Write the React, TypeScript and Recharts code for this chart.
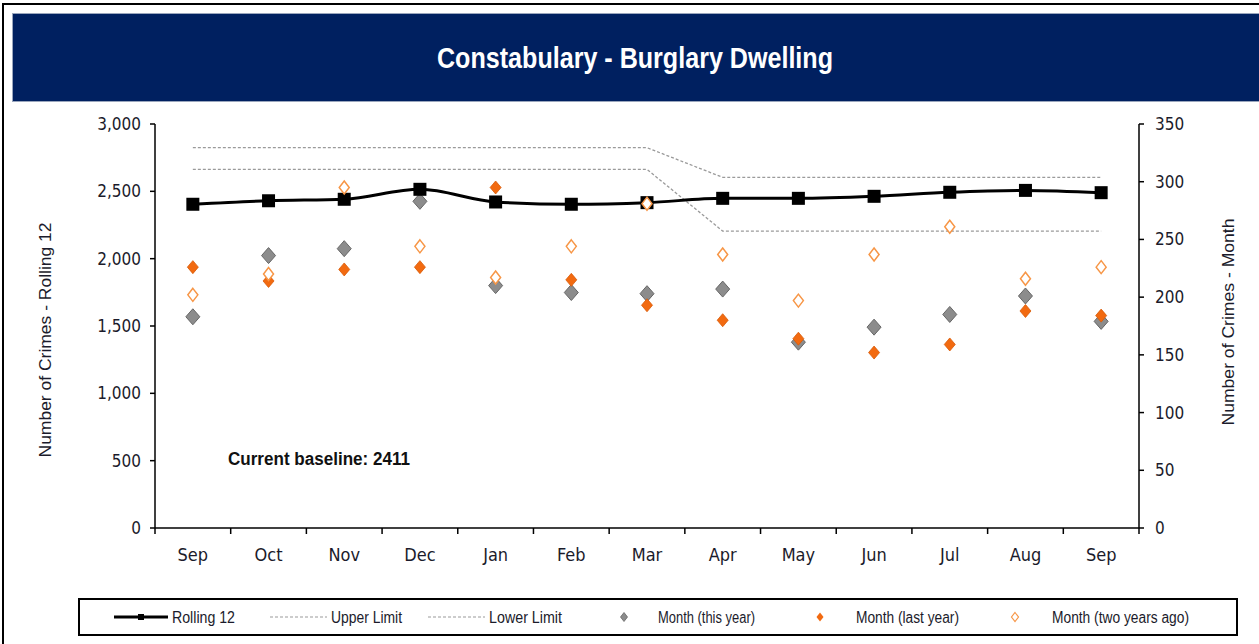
import React from 'react';
import { ComposedChart, Line, XAxis, YAxis } from 'recharts';

const months = ['Sep', 'Oct', 'Nov', 'Dec', 'Jan', 'Feb', 'Mar', 'Apr', 'May', 'Jun', 'Jul', 'Aug', 'Sep'];
const rolling12 = [2404, 2430, 2441, 2515, 2421, 2404, 2416, 2448, 2448, 2463, 2493, 2507, 2490];
const upperLimit = [2824, 2824, 2824, 2824, 2824, 2824, 2824, 2604, 2604, 2604, 2604, 2604, 2604];
const lowerLimit = [2663, 2663, 2663, 2663, 2663, 2663, 2663, 2205, 2205, 2205, 2205, 2205, 2205];
const monthThisYear = [183, 236, 242, 283, 210, 204, 203, 207, 161, 174, 185, 201, 179];
const monthLastYear = [226, 214, 224, 226, 295, 215, 193, 180, 164, 152, 159, 188, 184];
const monthTwoYearsAgo = [202, 220, 295, 244, 217, 244, 281, 237, 197, 237, 261, 216, 226];
const leftTicks = [0, 500, 1000, 1500, 2000, 2500, 3000];
const rightTicks = [0, 50, 100, 150, 200, 250, 300, 350];

const data = months.map((m, i) => ({
  idx: i,
  rolling: rolling12[i],
  upper: upperLimit[i],
  lower: lowerLimit[i],
  thisYear: monthThisYear[i],
  lastYear: monthLastYear[i],
  twoYears: monthTwoYearsAgo[i],
}));

const FONT = "'Liberation Sans Narrow', 'Arial Narrow', 'DejaVu Sans Condensed', 'Liberation Sans', Arial, sans-serif";
const SANS = "'Liberation Sans', Arial, sans-serif";
const TEXT = '#1b1b2b';
const NAVY = '#002060';
const GRAY_FILL = '#8c8c8c';
const GRAY_STROKE = '#666666';
const ORANGE = '#f26a10';
const LIGHT_ORANGE = '#f79646';

const diamond = (cx: number, cy: number, w: number, h: number) =>
  `M${cx},${cy - h} L${cx + w},${cy} L${cx},${cy + h} L${cx - w},${cy} Z`;

const SquareDot = (props: any) => {
  const { cx, cy, index } = props;
  if (cx == null || cy == null) return <g key={`sq-${index}`} />;
  return <rect key={`sq-${index}`} x={cx - 6.5} y={cy - 6.5} width={13} height={13} fill="#000" />;
};
const GrayDot = (props: any) => {
  const { cx, cy, index } = props;
  if (cx == null || cy == null) return <g key={`gd-${index}`} />;
  return <path key={`gd-${index}`} d={diamond(cx, cy, 7, 8)} fill={GRAY_FILL} stroke={GRAY_STROKE} strokeWidth={1} />;
};
const OrangeDot = (props: any) => {
  const { cx, cy, index } = props;
  if (cx == null || cy == null) return <g key={`od-${index}`} />;
  return <path key={`od-${index}`} d={diamond(cx, cy, 5.5, 6.5)} fill={ORANGE} stroke="#d85a08" strokeWidth={0.8} />;
};
const HollowDot = (props: any) => {
  const { cx, cy, index } = props;
  if (cx == null || cy == null) return <g key={`hd-${index}`} />;
  return <path key={`hd-${index}`} d={diamond(cx, cy, 5, 6.5)} fill="#fff" stroke={LIGHT_ORANGE} strokeWidth={1.5} />;
};

const XTick = (props: any) => {
  const { x, y, payload, index, visibleTicksCount } = props;
  const off = payload?.offset ?? 0;
  const last = index === (visibleTicksCount ?? months.length) - 1;
  return (
    <g>
      <line x1={x - off} x2={x - off} y1={y} y2={y + 6} stroke="#000" strokeWidth={1.5} />
      {last && <line x1={x + off} x2={x + off} y1={y} y2={y + 6} stroke="#000" strokeWidth={1.5} />}
      <text x={x} y={y + 33} textAnchor="middle" fontFamily={FONT} fontSize={18} fill={TEXT}>
        {months[payload.value]}
      </text>
    </g>
  );
};

const fmt = (v: number) => v.toLocaleString('en-US');

const legendItems = [
  { label: 'Rolling 12', kind: 'rolling', x: 114, w: 63 },
  { label: 'Upper Limit', kind: 'dash', x: 270, w: 71 },
  { label: 'Lower Limit', kind: 'dash', x: 428, w: 73 },
  { label: 'Month (this year)', kind: 'gray', x: 600, w: 97 },
  { label: 'Month (last year)', kind: 'orange', x: 797, w: 103 },
  { label: 'Month (two years ago)', kind: 'hollow', x: 993, w: 137 },
];

const LegendBox = () => (
  <div
    style={{
      position: 'absolute',
      left: 78,
      top: 598,
      width: 1156,
      height: 34,
      border: '2px solid #000',
      boxSizing: 'content-box',
    }}
  >
    <svg width={1156} height={34} style={{ position: 'absolute', left: 0, top: 0 }}>
      {legendItems.map((it) => {
        const lx = it.x - 80;
        let sym: React.ReactNode = null;
        let tx = lx + 58;
        if (it.kind === 'rolling') {
          sym = (
            <g>
              <line x1={lx} x2={lx + 54} y1={17} y2={17} stroke="#000" strokeWidth={3} />
              <rect x={lx + 24} y={14} width={6} height={6} fill="#000" />
            </g>
          );
        } else if (it.kind === 'dash') {
          sym = <line x1={lx} x2={lx + 57} y1={17} y2={17} stroke="#999" strokeWidth={1.2} strokeDasharray="3 2" />;
          tx = lx + 61;
        } else if (it.kind === 'gray') {
          sym = <path d={diamond(lx + 24, 17, 3.5, 4.5)} fill={GRAY_FILL} stroke={GRAY_STROKE} strokeWidth={0.8} />;
          tx = lx + 58;
        } else if (it.kind === 'orange') {
          sym = <path d={diamond(lx + 23, 17, 3.5, 4.5)} fill={ORANGE} />;
          tx = lx + 59;
        } else {
          sym = <path d={diamond(lx + 22, 17, 3.5, 4.5)} fill="#fff" stroke={LIGHT_ORANGE} strokeWidth={1.2} />;
          tx = lx + 59;
        }
        return (
          <g key={it.label}>
            {sym}
            <text
              x={tx}
              y={23}
              fontFamily={SANS}
              fontSize={16}
              fill={TEXT}
              textLength={it.w}
              lengthAdjust="spacingAndGlyphs"
            >
              {it.label}
            </text>
          </g>
        );
      })}
    </svg>
  </div>
);

export default function App() {
  return (
    <div
      style={{
        position: 'absolute',
        left: 0,
        top: 0,
        width: 1259,
        height: 644,
        overflow: 'hidden',
        background: '#fff',
        fontFamily: FONT,
      }}
    >
      <div
        style={{
          position: 'absolute',
          left: 2,
          top: 3,
          width: 1300,
          height: 700,
          border: '2px solid #000',
        }}
      />
      <div
        style={{
          position: 'absolute',
          left: 12,
          top: 13,
          width: 1260,
          height: 87,
          background: NAVY,
          borderTop: '1px solid #9aa6bd',
          borderLeft: '1px solid #9aa6bd',
          borderBottom: '1px solid #9aa6bd',
        }}
      />
      <div style={{ position: 'absolute', left: 0, top: 0 }}>
        <ComposedChart width={1259} height={644} data={data} margin={{ top: 124, right: 20, bottom: 56, left: 35 }}>
          <XAxis
            dataKey="idx"
            type="category"
            scale="band"
            xAxisId="x"
            axisLine={{ stroke: '#000', strokeWidth: 1.5 }}
            tickLine={false}
            tickSize={0}
            tickMargin={0}
            tick={<XTick />}
            interval={0}
            height={60}
          />
          <YAxis
            yAxisId="left"
            orientation="left"
            domain={[0, 3000]}
            ticks={leftTicks}
            tickFormatter={fmt}
            axisLine={{ stroke: '#000', strokeWidth: 1.5 }}
            tickLine={{ stroke: '#000', strokeWidth: 1.5 }}
            tickSize={5}
            tickMargin={9}
            tick={{ fontFamily: FONT, fontSize: 17, fill: TEXT }}
            width={120}
            allowDataOverflow
          />
          <YAxis
            yAxisId="right"
            orientation="right"
            domain={[0, 350]}
            ticks={rightTicks}
            axisLine={{ stroke: '#000', strokeWidth: 1.5 }}
            tickLine={{ stroke: '#000', strokeWidth: 1.5 }}
            tickSize={5}
            tickMargin={11}
            tick={{ fontFamily: FONT, fontSize: 17, fill: TEXT, textAnchor: 'start' }}
            width={100}
            allowDataOverflow
          />
          <Line
            xAxisId="x"
            yAxisId="left"
            dataKey="upper"
            stroke="#9a9a9a"
            strokeWidth={1.3}
            strokeDasharray="3 2"
            dot={false}
            activeDot={false}
            isAnimationActive={false}
          />
          <Line
            xAxisId="x"
            yAxisId="left"
            dataKey="lower"
            stroke="#9a9a9a"
            strokeWidth={1.3}
            strokeDasharray="3 2"
            dot={false}
            activeDot={false}
            isAnimationActive={false}
          />
          <Line
            xAxisId="x"
            yAxisId="right"
            dataKey="thisYear"
            stroke="none"
            dot={<GrayDot />}
            activeDot={false}
            isAnimationActive={false}
          />
          <Line
            xAxisId="x"
            yAxisId="right"
            dataKey="lastYear"
            stroke="none"
            dot={<OrangeDot />}
            activeDot={false}
            isAnimationActive={false}
          />
          <Line
            xAxisId="x"
            yAxisId="left"
            dataKey="rolling"
            type="monotone"
            stroke="#000"
            strokeWidth={3}
            dot={<SquareDot />}
            activeDot={false}
            isAnimationActive={false}
          />
          <Line
            xAxisId="x"
            yAxisId="right"
            dataKey="twoYears"
            stroke="none"
            dot={<HollowDot />}
            activeDot={false}
            isAnimationActive={false}
          />
        </ComposedChart>
      </div>
      <svg width={1259} height={644} style={{ position: 'absolute', left: 0, top: 0, pointerEvents: 'none' }}>
        <text
          x={635}
          y={68}
          textAnchor="middle"
          fontFamily={SANS}
          fontWeight="bold"
          fontSize={29}
          fill="#fff"
          textLength={396}
          lengthAdjust="spacingAndGlyphs"
        >
          Constabulary - Burglary Dwelling
        </text>
        <text
          x={228}
          y={465}
          fontFamily={SANS}
          fontWeight="bold"
          fontSize={18}
          fill="#111"
          textLength={182}
          lengthAdjust="spacingAndGlyphs"
        >
          Current baseline: 2411
        </text>
        <text
          transform="translate(51, 340) rotate(-90)"
          textAnchor="middle"
          fontFamily={SANS}
          fontSize={16}
          fill={TEXT}
          textLength={235}
          lengthAdjust="spacingAndGlyphs"
        >
          Number of Crimes - Rolling 12
        </text>
        <text
          transform="translate(1234, 322) rotate(-90)"
          textAnchor="middle"
          fontFamily={SANS}
          fontSize={16}
          fill={TEXT}
          textLength={207}
          lengthAdjust="spacingAndGlyphs"
        >
          Number of Crimes - Month
        </text>
      </svg>
      <LegendBox />
    </div>
  );
}
